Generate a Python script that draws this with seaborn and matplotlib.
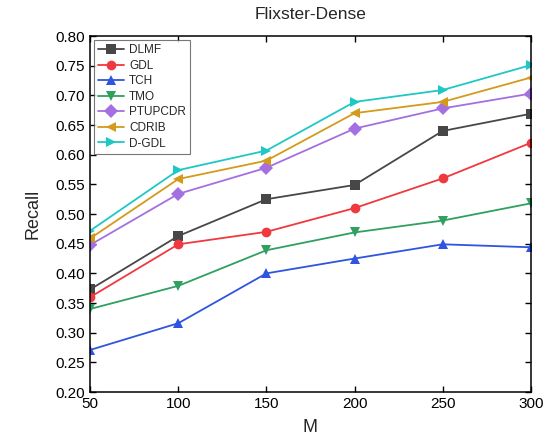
import pandas as pd
import seaborn as sns
import matplotlib.pyplot as plt

# data
m_values = [50, 100, 150, 200, 250, 300]
dlmf = [0.373, 0.463, 0.525, 0.549, 0.640, 0.669]
gdl = [0.360, 0.449, 0.470, 0.510, 0.560, 0.620]
tch = [0.271, 0.316, 0.400, 0.425, 0.449, 0.444]
tmo = [0.340, 0.379, 0.439, 0.469, 0.489, 0.518]
ptupcdr = [0.448, 0.534, 0.578, 0.644, 0.678, 0.703]
cdrib = [0.459, 0.559, 0.590, 0.670, 0.689, 0.730]
dgdl = [0.472, 0.574, 0.607, 0.689, 0.709, 0.751]

methods = ['DLMF', 'GDL', 'TCH', 'TMO', 'PTUPCDR', 'CDRIB', 'D-GDL']
series = [dlmf, gdl, tch, tmo, ptupcdr, cdrib, dgdl]
colors = ['#474747', '#f0383f', '#2f55e0', '#2fa060', '#a46fe0', '#d49a1a', '#1ec8c4']
marks = ['s', 'o', '^', 'v', 'D', '<', '>']

rows = []
for name, vals in zip(methods, series):
    for m, v in zip(m_values, vals):
        rows.append({'M': m, 'Recall': v, 'Method': name})
df = pd.DataFrame(rows)

sns.set_style('ticks')
plt.rcParams['font.family'] = ['Liberation Sans', 'DejaVu Sans']

fig = plt.figure(figsize=(5.5, 4.45), dpi=100)
ax = fig.add_axes([0.164, 0.119, 0.801, 0.800])

sns.lineplot(data=df, x='M', y='Recall', hue='Method', style='Method',
             hue_order=methods, style_order=methods,
             palette=dict(zip(methods, colors)),
             markers=dict(zip(methods, marks)), dashes=False,
             markersize=7, linewidth=1.3, markeredgewidth=0, ax=ax)

ax.set_xlim(50, 300)
ax.set_ylim(0.20, 0.80)
ax.set_xticks(m_values)
ax.set_yticks([0.20 + 0.05 * i for i in range(13)])
ax.set_yticklabels([f'{0.20 + 0.05 * i:.2f}' for i in range(13)])
ax.tick_params(direction='in', top=True, right=True, labelsize=11,
               length=4, width=1, colors='black')
for s in ax.spines.values():
    s.set_linewidth(1.1)
    s.set_color('black')

ax.set_title('Flixster-Dense', fontsize=12.5, pad=12)
ax.set_xlabel('M', fontsize=13, labelpad=6)
ax.set_ylabel('Recall', fontsize=13, labelpad=10)

leg = ax.legend(loc='upper left', fontsize=8.5, frameon=True, fancybox=False,
                borderaxespad=0.35, handlelength=2.2, labelspacing=0.3,
                handletextpad=0.4, borderpad=0.35)
leg.get_frame().set_edgecolor('#555555')
leg.get_frame().set_linewidth(0.8)

fig.savefig('out.png', dpi=100)
